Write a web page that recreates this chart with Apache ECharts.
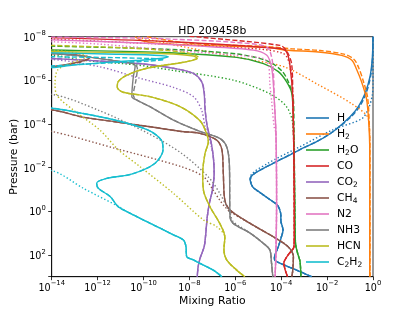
<!DOCTYPE html>
<html><head><meta charset="utf-8">
<script src="https://cdn.jsdelivr.net/npm/echarts@6/dist/echarts.min.js"></script>
<style>html,body{margin:0;padding:0;background:#fff}#c{width:415px;height:311px}</style>
</head><body><div id="c"></div><script>
// ---- data: [mixing ratio, pressure (bar)] ----
const speciesNames = ['H','H2','H2O','CO','CO2','CH4','N2','NH3','HCN','C2H2'];
const speciesColors = ['#1f77b4','#ff7f0e','#2ca02c','#d62728','#9467bd','#8c564b','#e377c2','#7f7f7f','#bcbd22','#17becf'];
const xTickValues = [1e-14,1e-12,1e-10,1e-8,1e-6,1e-4,1e-2,1];
const yTickValues = [1e-8,1e-6,1e-4,1e-2,1,1e2];

const H_tail = [[5.7e-6,0.076],[1.2e-5,0.14],[3.2e-5,0.29],[6.8e-5,0.52],[9.5e-5,1.26],[9.8e-5,3.0],[1.2e-4,7.2],[9.8e-5,17],[7.5e-5,42],[5.4e-5,100],[5.0e-5,160],[1.05e-4,260],[4.7e-4,500],[2.1e-3,1000]];
const H_solid = [[1.0,1e-8],[0.93,1e-7],[0.74,6.8e-7],[0.45,4e-6],[0.23,1.6e-5],[0.1,4.7e-5],[0.0186,2.2e-4],[3.5e-3,6.5e-4],[6.6e-4,1.5e-3],[1.2e-4,3.8e-3],[2.3e-5,9.1e-3],[7.2e-6,0.018],[4.4e-6,0.033]].concat(H_tail);
const H_dashed = [[1.0,1e-8],[0.95,1e-7],[0.78,6.8e-7],[0.5,4e-6],[0.26,1.6e-5],[0.11,4.7e-5],[0.02,2.1e-4],[3.6e-3,6.3e-4],[6.8e-4,1.45e-3],[1.2e-4,3.7e-3],[2.3e-5,9e-3],[7.2e-6,0.018],[4.4e-6,0.033]].concat(H_tail);
const H_dotted = [[1.0,1e-8],[1.0,1.4e-6],[0.93,4.9e-6],[0.63,2.0e-5],[0.32,5.8e-5],[0.0186,1.8e-4],[6.6e-4,1.1e-3],[2.3e-5,6.9e-3],[4.7e-6,0.026]].concat(H_tail);

const H2_solid = [[4.3e-11,1e-8],[8.3e-11,1.5e-8],[3.7e-10,2.0e-8],[2.9e-8,2.5e-8],[2.3e-5,3.1e-8],[2.0e-4,4.2e-8],[4.2e-3,5.0e-8],[0.043,7.2e-8],[0.12,1.2e-7],[0.19,3.0e-7],[0.32,1.2e-6],[0.52,6.9e-6],[0.65,8.1e-5],[0.72,1.5e-3],[0.72,1000]];
const H2_dashed = [[1.4e-10,1e-8],[1e-8,2.0e-8],[2.3e-5,2.8e-8],[3e-4,3.6e-8],[5e-3,4.3e-8],[0.055,6.3e-8],[0.15,1.1e-7],[0.24,2.7e-7],[0.38,1.1e-6],[0.58,6e-6],[0.68,7e-5],[0.74,1.5e-3],[0.74,1000]];
const H2_dotted = [[6e-11,1e-8],[1e-10,1.2e-8],[2.9e-8,4.1e-8],[6.2e-6,1.2e-7],[1.5e-4,2.5e-7],[4.2e-3,1.6e-6],[0.12,1.2e-5],[0.63,5.8e-5],[0.72,5.5e-4],[0.73,1000]];

const H2O_tail = [[3.9e-4,0.31],[4.2e-4,30],[5.2e-4,85],[6.6e-4,200],[7.2e-4,1000]];
const H2O_solid = [[1e-15,4e-8],[1e-14,4.1e-8],[1.4e-9,5.4e-8],[1.15e-6,8.9e-8],[1.7e-5,1.7e-7],[7.5e-5,4.0e-7],[1.7e-4,1.15e-6],[2.9e-4,4e-6],[3.4e-4,1e-4]].concat(H2O_tail);
const H2O_dashed = [[1e-15,2.6e-8],[1e-14,2.7e-8],[1.4e-9,3.8e-8],[1.15e-6,6.2e-8],[2.3e-5,1.26e-7],[1.05e-4,3.6e-7],[2.2e-4,1.4e-6],[3.4e-4,7.9e-6],[3.6e-4,1e-4]].concat(H2O_tail);
const H2O_dotted = [[1e-15,6.5e-8],[1e-14,6.9e-8],[2.4e-13,1.2e-7],[5.8e-11,2.0e-7],[1.9e-9,3.5e-7],[8.1e-7,9.8e-7],[3.2e-5,4.1e-6],[1.7e-4,1.6e-5],[3.2e-4,1e-4]].concat(H2O_tail);

const CO_tail = [[3.2e-4,6.9e-6],[3.6e-4,9.1e-3],[3.7e-4,10],[3.6e-4,42],[2.0e-4,100],[1.3e-4,245],[1.5e-4,500],[1.9e-4,1000]];
const CO_solid = [[1e-15,1.05e-8],[1e-14,1.1e-8],[1.4e-9,1.7e-8],[8.9e-5,3.5e-8],[1.7e-4,5.0e-8],[2.4e-4,2.0e-7]].concat(CO_tail);
const CO_dashed = [[1e-8,9.5e-9],[3e-8,1.05e-8],[8.9e-5,2.5e-8],[1.7e-4,4.3e-8],[2.9e-4,2.0e-7]].concat(CO_tail);
const CO_dotted = [[1e-15,1.25e-8],[1e-14,1.3e-8],[3.6e-11,1.9e-8],[8.1e-7,3.1e-8],[1.2e-4,5.8e-8],[2.6e-4,2.8e-7]].concat(CO_tail);

const CO2_tail = [[1.1e-7,3.2e-3],[1.2e-7,0.018],[1.0e-7,0.11],[7.4e-8,0.44],[6.0e-8,1.8],[5.2e-8,10],[4.4e-8,42],[2.9e-8,145],[2.4e-8,350],[2.2e-8,1000]];
const CO2_solid = [[1e-15,9.5e-8],[1e-14,1e-7],[5.8e-11,1.7e-7],[2.0e-9,2.8e-7],[1.5e-8,4.8e-7],[3.4e-8,1.15e-6],[4.4e-8,4e-6],[4.8e-8,2.3e-5],[6.0e-8,1.3e-4],[8.5e-8,5.5e-4]].concat(CO2_tail);
const CO2_dashed = [[1e-15,9.5e-8],[1e-14,1e-7],[5.8e-11,1.7e-7],[2.0e-9,2.8e-7],[1.5e-8,4.9e-7],[3.5e-8,1.2e-6],[4.5e-8,4e-6],[4.9e-8,2.3e-5],[6.0e-8,1.3e-4],[8.5e-8,5.5e-4]].concat(CO2_tail);
const CO2_dotted = [[1e-15,1.05e-7],[1e-14,1.1e-7],[1.26e-12,2.4e-7],[7.1e-11,8.1e-7],[2e-9,2.1e-6],[1.5e-8,5.6e-6],[3.4e-8,2.3e-5],[4.8e-8,1.3e-4],[8e-8,6.5e-4]].concat(CO2_tail);

const CH4_tail = [[4.4e-6,3.6],[4.6e-5,15],[2.0e-4,42],[3.4e-4,120],[3.2e-4,500],[2.9e-4,1000]];
const CH4_solid = [[1e-15,5e-8],[1.2e-13,6.9e-8],[4.7e-13,8.9e-8],[1.7e-13,1.4e-7],[1e-14,2.4e-7],[1e-15,2.8e-7],[1e-15,2.2e-5],[1e-14,2.3e-5],[1.95e-13,4.7e-5],[5.6e-12,7.9e-5],[1.6e-10,1.3e-4],[4.5e-9,2.2e-4],[2.9e-8,2.7e-4],[1.55e-7,5.5e-4],[2.6e-7,1.5e-3],[3.0e-7,0.018],[3.5e-7,0.31],[5.9e-7,0.88]].concat(CH4_tail);
const CH4_dashed = [[1e-15,5.2e-8],[1.3e-13,7.1e-8],[4.9e-13,9.1e-8],[1.8e-13,1.45e-7],[1e-14,2.5e-7],[1e-15,2.8e-7],[1e-15,2.2e-5],[1e-14,2.3e-5],[1.95e-13,4.7e-5],[5.6e-12,7.9e-5],[1.6e-10,1.3e-4],[4.5e-9,2.2e-4],[2.9e-8,2.7e-4],[1.55e-7,5.5e-4],[2.6e-7,1.5e-3],[3.0e-7,0.018],[3.5e-7,0.31],[5.9e-7,0.88]].concat(CH4_tail);
const CH4_dotted = [[1e-15,1.9e-4],[1e-14,2.2e-4],[5.6e-12,1.3e-3],[4.5e-9,9.1e-3],[4.1e-8,0.026],[1.1e-7,0.11],[2.1e-7,0.31],[3.5e-7,0.62],[5.9e-7,1.05]].concat(CH4_tail);

const N2_tail = [[5.9e-5,2.7e-4],[6.3e-5,0.31],[5.9e-5,85],[5.4e-5,1000]];
const N2_solid = [[1e-15,1.35e-8],[1e-14,1.4e-8],[3.6e-11,1.9e-8],[2.9e-8,2.7e-8],[6.2e-6,4.1e-8],[2.3e-5,6.9e-8],[3.5e-5,1.7e-7],[4.3e-5,6.8e-7],[5.0e-5,7.9e-6]].concat(N2_tail);
const N2_dashed = [[1e-15,1e-8],[1e-14,1.05e-8],[7.8e-11,1.15e-8],[1.9e-9,1.3e-8],[8.1e-7,1.8e-8],[2.3e-5,2.9e-8],[3.8e-5,8.3e-8],[4.6e-5,4.8e-7],[5.0e-5,7.9e-6]].concat(N2_tail);
const N2_dotted = [[1e-15,1.65e-8],[1e-14,1.7e-8],[1.26e-12,2.2e-8],[1.4e-9,4.1e-8],[8.1e-7,6.9e-8],[1.7e-5,1e-7],[2.8e-5,2.0e-7],[3.2e-5,1.4e-6],[3.8e-5,7.9e-6],[4.9e-5,1.3e-4]].concat(N2_tail);

const NH3_mid = [[1.9e-10,1.6e-5],[2.0e-9,6.6e-5],[2.9e-8,2.2e-4],[2.1e-7,4.6e-4],[4.2e-7,1.1e-3],[5.5e-7,6.5e-3],[5.9e-7,1.8],[8.1e-7,3.6]];
const NH3_tail = [[4.4e-6,10],[1.7e-5,30],[3.2e-5,60],[3.8e-5,245],[4.3e-5,1000]];
const NH3_solid = [[1e-15,5.5e-8],[1e-14,5.8e-8],[3.6e-11,1.7e-7],[4.3e-11,2.4e-7],[3.6e-11,6.8e-7],[3.1e-11,5.6e-6],[5.0e-11,7.9e-6]].concat(NH3_mid, NH3_tail);
const NH3_dashed = [[1e-15,5.5e-8],[1e-14,5.8e-8],[3.6e-11,1.7e-7],[5.4e-11,2.8e-7],[4.7e-11,9.8e-7],[3.6e-11,4.7e-6],[5.0e-11,7.9e-6]].concat(NH3_mid, NH3_tail);
const NH3_dotted = [[1e-15,4e-6],[1e-14,4.4e-6],[1.05e-12,2.3e-5],[1.6e-10,2.7e-4],[4.5e-9,2.2e-3],[6.5e-8,0.026],[2.1e-7,0.15],[5.9e-7,1.26],[8.1e-7,3.0]].concat(NH3_tail);

const HCN_tail = [[3.5e-7,15],[3.2e-7,60],[4.2e-7,170],[1.15e-6,500],[2.6e-6,1000]];
const HCN_lower = [[1.4e-10,2.8e-7],[1.9e-11,5.7e-7],[7.9e-12,1.15e-6],[7.2e-12,2.1e-6],[1.3e-11,3.5e-6],[1.9e-10,5.6e-6],[3.9e-9,1.6e-5],[2.9e-8,7.1e-5],[5.6e-8,2.7e-4],[6.7e-8,6.5e-4],[4.8e-8,2.2e-3],[3.8e-8,0.018],[4.1e-8,0.11],[7.9e-8,0.62],[2.1e-7,3.6]];
const HCN_solid = [[1e-15,4.8e-8],[1e-14,4.9e-8],[3.6e-11,5.4e-8],[2e-9,6.2e-8],[1.5e-8,7.7e-8],[2.2e-8,1e-7],[7.6e-9,1.4e-7]].concat(HCN_lower, HCN_tail);
const HCN_dashed = [[1e-15,2.4e-8],[1e-14,2.5e-8],[3.6e-11,3.4e-8],[7.6e-9,5.4e-8],[2.5e-8,8.9e-8],[8e-9,1.35e-7]].concat(HCN_lower, HCN_tail);
const HCN_dotted = [[1e-15,4e-8],[1e-14,4.1e-8],[3.3e-13,8.3e-8],[6.3e-14,1.7e-7],[1.8e-14,3.4e-7],[1.4e-14,1.4e-6],[1.66e-14,4.7e-6],[8.8e-14,2.3e-5],[1.26e-12,1.9e-4],[7.9e-12,1.5e-3],[7.1e-11,9.1e-3],[2e-9,0.15],[4.1e-8,2.5],[1.55e-7,5.1]].concat(HCN_tail);

const C2H2_tail = [[1.4e-10,3.0],[2.0e-9,12],[5.5e-9,21],[7.1e-9,42],[7.6e-9,120],[1.5e-8,170],[2.9e-8,245],[1.1e-7,500],[2.6e-7,1000]];
const C2H2_main = [[1e-15,1.8e-5],[1e-14,1.9e-5],[1.95e-13,3.2e-5],[5.6e-12,6.6e-5],[1.6e-10,1.9e-4],[6.0e-10,5.5e-4],[7.1e-10,1.5e-3],[3.1e-10,6.5e-3],[3.0e-11,0.02],[2.5e-12,0.031],[9.1e-13,0.052],[1.07e-12,0.089],[3.5e-12,0.21],[7.9e-12,0.62],[1.9e-11,1.05]];
const C2H2_solid = [[1e-15,5e-8],[1e-14,5.4e-8],[2.5e-12,6.2e-8],[1.9e-10,6.9e-8],[1.2e-9,8.3e-8],[5.2e-10,1.0e-7],[7.1e-11,1.2e-7],[2.5e-12,1.5e-7],[8.8e-14,2.0e-7],[1e-14,2.6e-7],[1e-15,2.8e-7]].concat(C2H2_main, C2H2_tail);
const C2H2_dashed = [[1e-15,8e-8],[1e-14,8.3e-8],[2.5e-12,9e-8],[1.9e-10,1e-7],[8e-10,1.1e-7],[1.9e-10,1.3e-7],[2.5e-12,1.6e-7],[1e-14,2.2e-7],[1e-15,2.4e-7]].concat(C2H2_main, C2H2_tail);
const C2H2_dotted = [[1e-15,0.012],[1e-14,0.0138],[2.4e-13,0.089],[9.6e-12,0.66],[1.9e-11,1.05]].concat(C2H2_tail);

const curves = {
  H:[H_solid,H_dashed,H_dotted], H2:[H2_solid,H2_dashed,H2_dotted], H2O:[H2O_solid,H2O_dashed,H2O_dotted],
  CO:[CO_solid,CO_dashed,CO_dotted], CO2:[CO2_solid,CO2_dashed,CO2_dotted], CH4:[CH4_solid,CH4_dashed,CH4_dotted],
  N2:[N2_solid,N2_dashed,N2_dotted], NH3:[NH3_solid,NH3_dashed,NH3_dotted], HCN:[HCN_solid,HCN_dashed,HCN_dotted],
  C2H2:[C2H2_solid,C2H2_dashed,C2H2_dotted]
};
const legendLabels = {H:'{n|H}',H2:'{n|H}{s|2}',H2O:'{n|H}{s|2}{n|O}',CO:'{n|CO}',CO2:'{n|CO}{s|2}',CH4:'{n|CH}{s|4}',N2:'{n|N2}',NH3:'{n|NH3}',HCN:'{n|HCN}',C2H2:'{n|C}{s|2}{n|H}{s|2}'};

// ---- chart ----
const F = 'DejaVu Sans';
const LW = 1.4;
const series = [];
speciesNames.forEach((n,i)=>{
  const styles = ['solid',[5,2.2],[1.4,2.2]];
  const suffix = ['','_dashed','_dotted'];
  curves[n].forEach((d,k)=>{
    series.push({
      name: n + suffix[k], type:'line', data:d, showSymbol:false, symbol:'none',
      smooth:0.3, silent:true, clip:true, z:2,
      lineStyle:{color:speciesColors[i], width:LW, type:styles[k], cap:'butt'},
      itemStyle:{color:speciesColors[i]}, emphasis:{disabled:true}
    });
  });
});
const tickFmt = v => {
  const e = Math.round(Math.log10(v));
  if (e % 2 !== 0) return '';
  return '{b|10}{s|' + (e<0?'\u2212':'') + Math.abs(e) + '}';
};
const tickRich = {
  b:{fontSize:9.6, lineHeight:13, verticalAlign:'bottom', fontFamily:F, color:'#000'},
  s:{fontSize:6.8, lineHeight:6, verticalAlign:'top', fontFamily:F, color:'#000'}
};
const chart = echarts.init(document.getElementById('c'), null, {renderer:'canvas'});
chart.setOption({
  animation:false,
  backgroundColor:'#fff',
  title:{text:'HD 209458b', left:212.3, top:25.5, textAlign:'center', padding:0,
    textStyle:{fontSize:10.8, fontWeight:'normal', color:'#000', fontFamily:F}},
  grid:{left:51.7, top:36.7, width:321.3, height:240, show:true, borderColor:'#000', borderWidth:0.8, containLabel:false, outerBoundsMode:'none'},
  legend:{
    data:speciesNames, orient:'vertical', left:306, top:111, padding:0,
    itemWidth:23, itemHeight:1.6, itemGap:2, icon:'rect', selectedMode:false,
    formatter: n => legendLabels[n],
    textStyle:{fontSize:10.8, fontFamily:F, color:'#000', lineHeight:14, padding:[0,0,0,3],
      rich:{n:{fontSize:10.8, lineHeight:14, fontFamily:F, color:'#000', verticalAlign:'middle'},
            s:{fontSize:7.5, lineHeight:8, fontFamily:F, color:'#000', verticalAlign:'bottom'}}}
  },
  xAxis:{type:'log', logBase:10, min:xTickValues[0], max:xTickValues[xTickValues.length-1], interval:2,
    name:'Mixing Ratio', nameLocation:'middle', nameGap:19, nameMoveOverlap:false,
    nameTextStyle:{fontSize:10.8, color:'#000', fontFamily:F},
    axisLine:{show:true, lineStyle:{color:'#000', width:0.8}},
    axisTick:{show:true, length:3.5, inside:false, lineStyle:{color:'#000', width:0.8}},
    minorTick:{show:false}, splitLine:{show:false},
    axisLabel:{formatter:tickFmt, margin:3.5, rich:tickRich, showMinLabel:true, showMaxLabel:true, hideOverlap:false}},
  yAxis:{type:'log', logBase:10, min:yTickValues[0], max:1e3, interval:2, inverse:true,
    name:'Pressure (bar)', nameLocation:'middle', nameGap:32, nameRotate:90, nameMoveOverlap:false,
    nameTextStyle:{fontSize:10.8, color:'#000', fontFamily:F},
    axisLine:{show:true, lineStyle:{color:'#000', width:0.8}},
    axisTick:{show:true, length:3.5, inside:false, lineStyle:{color:'#000', width:0.8}},
    minorTick:{show:false}, splitLine:{show:false},
    axisLabel:{formatter:tickFmt, margin:6, rich:tickRich, showMinLabel:true, showMaxLabel:true, hideOverlap:false}},
  series: series
});
</script></body></html>
